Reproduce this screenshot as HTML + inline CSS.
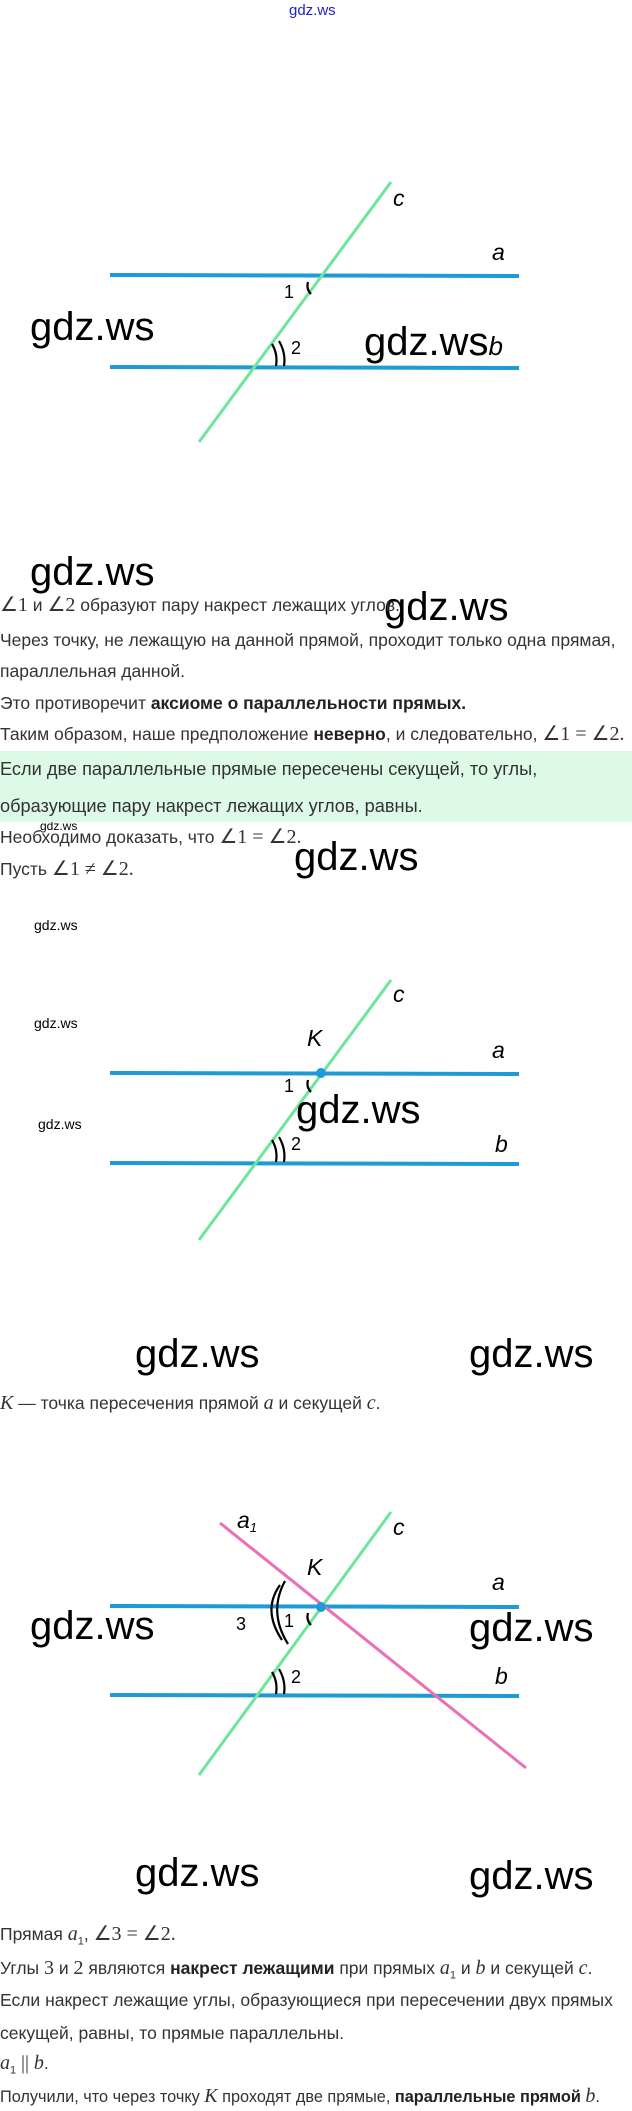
<!DOCTYPE html>
<html><head><meta charset="utf-8"><style>
body{margin:0;width:632px;height:2111px;position:relative;background:#fff;font-family:"Liberation Sans",sans-serif;color:#333;overflow:hidden}
.t{position:absolute;left:0;font-size:17.5px;white-space:nowrap;line-height:20px}
.w{position:absolute;font-family:"Liberation Sans",sans-serif;font-size:40px;color:#000;line-height:44px}
.ws{position:absolute;font-size:14px;color:#000}
.m{font-family:"Liberation Serif",serif;font-size:20px}
b{color:#222}
svg{position:absolute;left:0;top:0}
</style></head><body>
<div style="position:absolute;left:289px;top:2px;font-size:15px;color:#2020cc">gdz.ws</div>
<svg width="632" height="2111">
<g font-family="Liberation Sans,sans-serif" font-size="23" fill="#000">
<line x1="110" y1="275" x2="519" y2="276" stroke="#1e9ad6" stroke-width="4"/>
<line x1="110" y1="367" x2="519" y2="368" stroke="#1e9ad6" stroke-width="4"/>
<line x1="199" y1="442" x2="391" y2="182" stroke="#6ee69a" stroke-width="3"/>
<path d="M308 282 Q306 289 311 294" stroke="#000" stroke-width="2.2" fill="none"/>
<path d="M272 344 Q278 354 276 366 M279 341 Q286 353 284 366" stroke="#000" stroke-width="2.2" fill="none"/>
<text x="393" y="206" font-style="italic">c</text>
<text x="492" y="260" font-style="italic">a</text>
<text x="284" y="298" font-size="18">1</text>
<text x="291" y="354" font-size="18">2</text>
<line x1="110" y1="1073" x2="519" y2="1074" stroke="#1e9ad6" stroke-width="4"/>
<line x1="110" y1="1163" x2="519" y2="1164" stroke="#1e9ad6" stroke-width="4"/>
<line x1="199" y1="1240" x2="391" y2="980" stroke="#6ee69a" stroke-width="3"/>
<circle cx="321" cy="1073" r="5" fill="#1e9ad6"/>
<path d="M308 1080 Q306 1087 311 1092" stroke="#000" stroke-width="2.2" fill="none"/>
<path d="M272 1140 Q278 1150 276 1162 M279 1137 Q286 1149 284 1162" stroke="#000" stroke-width="2.2" fill="none"/>
<text x="393" y="1002" font-style="italic">c</text>
<text x="492" y="1058" font-style="italic">a</text>
<text x="495" y="1152" font-style="italic">b</text>
<text x="307" y="1046" font-style="italic">K</text>
<text x="284" y="1092" font-size="18">1</text>
<text x="291" y="1150" font-size="18">2</text>
<line x1="110" y1="1606" x2="519" y2="1607" stroke="#1e9ad6" stroke-width="4"/>
<line x1="110" y1="1695" x2="519" y2="1696" stroke="#1e9ad6" stroke-width="4"/>
<line x1="220" y1="1523" x2="526" y2="1768" stroke="#ec6fb6" stroke-width="3"/>
<line x1="199" y1="1775" x2="391" y2="1512" stroke="#6ee69a" stroke-width="3"/>
<circle cx="321" cy="1607" r="5" fill="#1e9ad6"/>
<path d="M308 1613 Q306 1620 311 1625" stroke="#000" stroke-width="2.2" fill="none"/>
<path d="M280 1585 Q262 1610 282 1640 M285 1581 Q268 1612 288 1644" stroke="#000" stroke-width="2.2" fill="none"/>
<path d="M272 1672 Q278 1682 276 1694 M279 1669 Q286 1681 284 1694" stroke="#000" stroke-width="2.2" fill="none"/>
<text x="393" y="1535" font-style="italic">c</text>
<text x="237" y="1528" font-style="italic">a<tspan font-size="13" dy="4">1</tspan></text>
<text x="492" y="1590" font-style="italic">a</text>
<text x="495" y="1684" font-style="italic">b</text>
<text x="307" y="1575" font-style="italic">K</text>
<text x="236" y="1630" font-size="18">3</text>
<text x="284" y="1627" font-size="18">1</text>
<text x="291" y="1683" font-size="18">2</text>
</g>
</svg>
<div class="w" style="left:30px;top:305px">gdz.ws</div>
<div class="w" style="left:364px;top:320px">gdz.ws<i style="font-size:26px">b</i></div>
<div class="w" style="left:30px;top:550px">gdz.ws</div>
<div class="w" style="left:384px;top:585px">gdz.ws</div>
<div class="w" style="left:294px;top:835px">gdz.ws</div>
<div class="w" style="left:296px;top:1088px">gdz.ws</div>
<div class="w" style="left:135px;top:1332px">gdz.ws</div>
<div class="w" style="left:469px;top:1332px">gdz.ws</div>
<div class="w" style="left:30px;top:1604px">gdz.ws</div>
<div class="w" style="left:469px;top:1606px">gdz.ws</div>
<div class="w" style="left:135px;top:1851px">gdz.ws</div>
<div class="w" style="left:469px;top:1854px">gdz.ws</div>
<div class="ws" style="left:40px;top:819px;font-size:12px">gdz.ws</div>
<div class="ws" style="left:34px;top:917px">gdz.ws</div>
<div class="ws" style="left:34px;top:1015px">gdz.ws</div>
<div class="ws" style="left:38px;top:1116px">gdz.ws</div>

<div style="position:absolute;left:0;top:751px;width:632px;height:71px;background:#dcfae6"></div>
<div class="t" style="top:595px"><span class="m">∠1</span> и <span class="m">∠2</span> образуют пару накрест лежащих углов.</div>
<div class="t" style="top:630px">Через точку, не лежащую на данной прямой, проходит только одна прямая,</div>
<div class="t" style="top:661px">параллельная данной.</div>
<div class="t" style="top:693px">Это противоречит <b>аксиоме о параллельности прямых.</b></div>
<div class="t" style="top:724px">Таким образом, наше предположение <b>неверно</b>, и следовательно, <span class="m">∠1 = ∠2.</span></div>
<div class="t" style="top:759px;font-size:18.2px">Если две параллельные прямые пересечены секущей, то углы,</div>
<div class="t" style="top:796px;font-size:18.2px">образующие пару накрест лежащих углов, равны.</div>
<div class="t" style="top:827px">Необходимо доказать, что <span class="m">∠1 = ∠2.</span></div>
<div class="t" style="top:859px">Пусть <span class="m">∠1 ≠ ∠2.</span></div>
<div class="t" style="top:1393px"><i class="m">K</i> — точка пересечения прямой <i class="m">a</i> и секущей <i class="m">c</i>.</div>
<div class="t" style="top:1924px">Прямая <i class="m">a</i><sub style="font-size:11px">1</sub>, <span class="m">∠3 = ∠2.</span></div>
<div class="t" style="top:1958px">Углы <span class="m">3</span> и <span class="m">2</span> являются <b>накрест лежащими</b> при прямых <i class="m">a</i><sub style="font-size:11px">1</sub> и <i class="m">b</i> и секущей <i class="m">c</i>.</div>
<div class="t" style="top:1990px">Если накрест лежащие углы, образующиеся при пересечении двух прямых</div>
<div class="t" style="top:2023px">секущей, равны, то прямые параллельны.</div>
<div class="t" style="top:2053px"><i class="m">a</i><sub style="font-size:11px">1</sub> <span class="m">||</span> <i class="m">b</i>.</div>
<div class="t" style="top:2086px;font-size:16.3px">Получили, что через точку <i class="m">K</i> проходят две прямые, <b>параллельные прямой</b> <i class="m">b</i>.</div>
</body></html>
